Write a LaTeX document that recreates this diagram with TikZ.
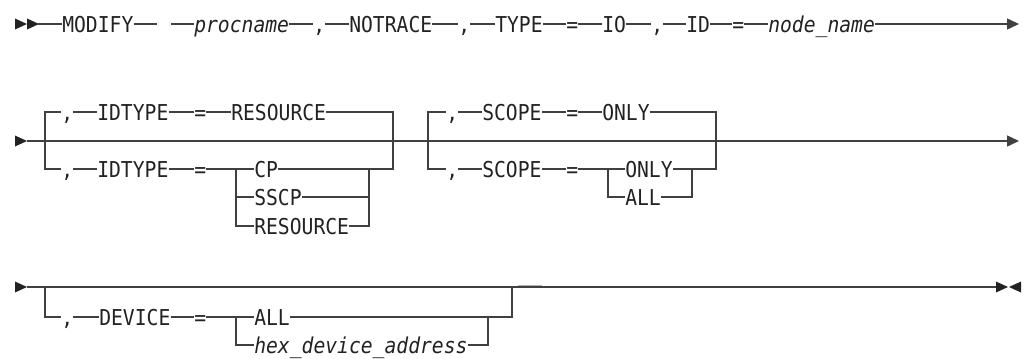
\documentclass[tikz,border=0pt]{standalone}
\usepackage{fontspec}
\setmonofont[FakeStretch=0.9]{DejaVu Sans Mono}
\usetikzlibrary{arrows.meta}
\definecolor{railline}{RGB}{64,64,64}
\definecolor{railtext}{RGB}{34,34,34}
\tikzset{
  kw/.style={inner sep=0pt,text height=12pt,text depth=0pt,anchor=west,text=railtext,
    font=\ttfamily\fontsize{16.4}{18}\selectfont},
  var/.style={kw,font=\ttfamily\itshape\fontsize{16.4}{18}\selectfont},
  rail/.style={draw=railline,line width=1.1pt},
  railend/.style={rail,-{Triangle[length=9pt,width=8.25pt]}},
}
% filled triangles for the start and stop marks
\newcommand{\railhead}[2]{\fill[railtext] (#1,#2-5.5) -- ++(12,5.5) -- ++(-12,5.5) -- cycle;}
\newcommand{\railstop}[2]{\fill[railtext] (#1,#2-5.5) -- ++(-12,5.5) -- ++(12,5.5) -- cycle;}
\begin{document}
\begin{tikzpicture}[x=0.75pt,y=-0.75pt]
  \useasboundingbox (0,0) rectangle (1026,358);
  % row 1
  \railhead{15}{24}
  \railhead{27}{24}
  \coordinate (s1) at (38,24);
  \node[kw] (modify) at (62,24) {MODIFY};
  \coordinate (gapL) at (157,24);
  \coordinate (gapR) at (171,24);
  \node[var] (procname) at (194,24) {procname};
  \node[kw] (c1) at (313,24) {,};
  \node[kw] (notrace) at (349,24) {NOTRACE};
  \node[kw] (c2) at (458,24) {,};
  \node[kw] (type) at (495,24) {TYPE};
  \node[kw] (eq1) at (566,24) {=};
  \node[kw] (io) at (602,24) {IO};
  \node[kw] (c3) at (651,24) {,};
  \node[kw] (id) at (686,24) {ID};
  \node[kw] (eq2) at (732,24) {=};
  \node[var] (nodename) at (768,24) {node\_name};
  \coordinate (e1) at (1019,24);
  \draw[rail] (s1) -- (modify.west);
  \draw[rail] (modify.east) -- (gapL);
  \draw[rail] (gapR) -- (procname.west);
  \foreach \a/\b in {procname/c1,c1/notrace,notrace/c2,c2/type,type/eq1,eq1/io,io/c3,c3/id,id/eq2,eq2/nodename}
    \draw[rail] (\a.east) -- (\b.west);
  \draw[railend] (nodename.east) -- (e1);
  % row 2
  \railhead{15}{141}
  \coordinate (s2) at (27,141);
  \coordinate (e2) at (1019,141);
  \draw[railend] (s2) -- (e2);
  \node[kw] (c4) at (61,112) {,};
  \node[kw] (idtype1) at (97,112) {IDTYPE};
  \node[kw] (eq3) at (194,112) {=};
  \node[kw] (resource1) at (231,112) {RESOURCE};
  \node[kw] (c5) at (61,169) {,};
  \node[kw] (idtype2) at (97,169) {IDTYPE};
  \node[kw] (eq4) at (194,169) {=};
  \node[kw] (cp) at (254,169) {CP};
  \node[kw] (sscp) at (254,197) {SSCP};
  \node[kw] (resource2) at (254,226) {RESOURCE};
  \draw[rail] (c4.west) -- (45,112) -- (45,169) -- (c5.west);
  \foreach \a/\b in {c4/idtype1,idtype1/eq3,eq3/resource1,c5/idtype2,idtype2/eq4,eq4/cp}
    \draw[rail] (\a.east) -- (\b.west);
  \draw[rail] (236,169) |- (sscp.west);
  \draw[rail] (236,169) |- (resource2.west);
  \draw[rail] (resource1.east) -- (393,112) -- (393,169) -- (cp.east);
  \draw[rail] (sscp.east) -- (369,197);
  \draw[rail] (resource2.east) -- (369,226) -- (369,169);
  \node[kw] (c6) at (446,112) {,};
  \node[kw] (scope1) at (482,112) {SCOPE};
  \node[kw] (eq5) at (566,112) {=};
  \node[kw] (only1) at (602,112) {ONLY};
  \node[kw] (c7) at (446,169) {,};
  \node[kw] (scope2) at (482,169) {SCOPE};
  \node[kw] (eq6) at (566,169) {=};
  \node[kw] (only2) at (625,169) {ONLY};
  \node[kw] (all1) at (625,197) {ALL};
  \draw[rail] (c6.west) -- (428,112) -- (428,169) -- (c7.west);
  \foreach \a/\b in {c6/scope1,scope1/eq5,eq5/only1,c7/scope2,scope2/eq6,eq6/only2}
    \draw[rail] (\a.east) -- (\b.west);
  \draw[rail] (608,169) |- (all1.west);
  \draw[rail] (only1.east) -- (716,112) -- (716,169) -- (only2.east);
  \draw[rail] (all1.east) -- (692,197) -- (692,169);
  % row 3
  \railhead{15}{287}
  \coordinate (s3) at (27,287);
  \coordinate (e3) at (996,287);
  \draw[rail] (s3) -- (e3);
  \railhead{996}{287}
  \railstop{1021}{287}
  \node[kw] (c8) at (61,317) {,};
  \node[kw] (device) at (99,317) {DEVICE};
  \node[kw] (eq7) at (194,317) {=};
  \node[kw] (all2) at (254,317) {ALL};
  \node[var] (hexaddr) at (254,345) {hex\_device\_address};
  \draw[rail] (45,287) -- (45,317) -- (c8.west);
  \foreach \a/\b in {c8/device,device/eq7,eq7/all2}
    \draw[rail] (\a.east) -- (\b.west);
  \draw[rail] (236,317) |- (hexaddr.west);
  \draw[rail] (all2.east) -- (512,317) -- (512,287);
  \draw[rail] (hexaddr.east) -- (488,345) -- (488,317);
  \draw[gray!60,line width=1.1pt] (518,285.5) -- (542,285.5);
\end{tikzpicture}
\end{document}
